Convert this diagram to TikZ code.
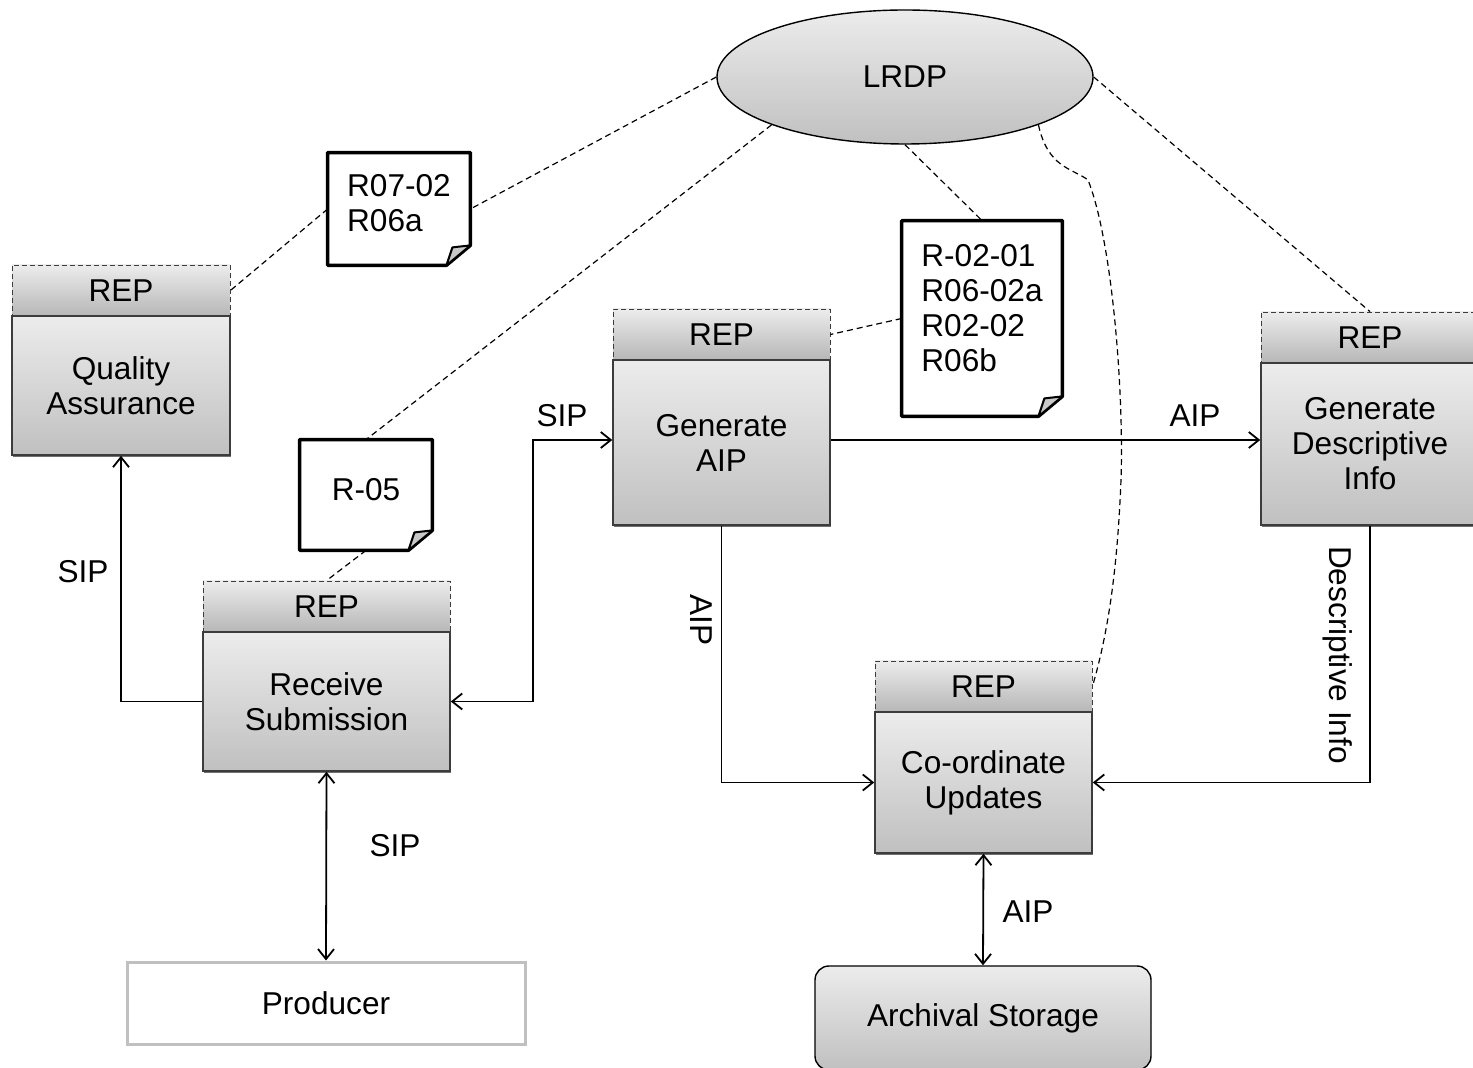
\documentclass[tikz,border=0pt]{standalone}
\usepackage{fontspec}
\setmainfont{Liberation Sans}
\usepackage{tikz}
\usetikzlibrary{shapes,arrows.meta,positioning,calc,shadows}
\definecolor{boxtop}{RGB}{236, 236, 236}
\definecolor{boxbottom}{RGB}{192, 192, 192}
\definecolor{boxline}{RGB}{60, 60, 60}
\definecolor{foldgray}{RGB}{200, 200, 200}
\definecolor{prodline}{RGB}{192, 192, 192}

% outline of a note with its turned-down corner
\newcommand{\notepage}[1]{%
    \draw[line width=1.7pt, line join=round] (#1.north west) -- (#1.north east) -- ([yshift=10pt]#1.south east) -- ([xshift=-12pt]#1.south east) -- (#1.south west) -- cycle;
    \filldraw[fill=foldgray, line width=1pt, line join=round] ([xshift=-12pt]#1.south east) -- ([xshift=-9pt, yshift=9pt]#1.south east) -- ([yshift=10pt]#1.south east) -- cycle;
}

\begin{document}
\begin{tikzpicture}[x=0.5pt, y=-0.5pt, >={Straight Barb[length=5pt,width=8pt]},
    every node/.style={font=\fontsize{15.8}{17.5}\selectfont},
    rephead/.style={draw=boxline, dashed, dash pattern=on 2.5pt off 1.5pt, top color=boxtop, bottom color=boxbottom!95!black, minimum height=25.5pt, inner sep=0pt},
    procbox/.style={draw=boxline, line width=0.8pt, top color=boxtop, bottom color=boxbottom, align=center, inner sep=0pt, drop shadow={shadow xshift=0.5pt, shadow yshift=-1pt, fill=black!80, opacity=0.7}},
    note/.style={fill=white, align=left, inner sep=0pt},
    link/.style={dashed, line width=0.6pt, dash pattern=on 3pt off 2pt},
    flow/.style={line width=0.9pt},
    lbl/.style={inner sep=1pt}]
    \useasboundingbox (0,0) rectangle (1473,1068);

    % LRDP
    \node[ellipse, draw, line width=0.7pt, top color=boxtop, bottom color=boxbottom, minimum width=188pt, minimum height=67pt, inner sep=0pt] (lrdp) at (905,77) {LRDP};

    % Notes
    \node[note, minimum width=71pt, minimum height=56pt] (n1) at (399,209) {R07-02\\R06a\\[-11.5pt]\mbox{}};
    \node[note, minimum width=66pt, minimum height=55pt] (n2) at (366,495) {R-05\\[-12pt]\mbox{}};
    \node[note, minimum width=80pt, minimum height=97.5pt] (n3) at (982,318.5) {R-02-01\\R06-02a\\R02-02\\R06b\\[-6.5pt]\mbox{}};
    \notepage{n1}
    \notepage{n2}
    \notepage{n3}

    % Process boxes
    \node[rephead, minimum width=109pt] (qa-rep) at (121,290.5) {REP};
    \node[procbox, minimum width=109pt, minimum height=69.5pt] (qa) at (121,385.5) {Quality\\Assurance};

    \node[rephead, minimum width=123.5pt] (rs-rep) at (326.5,606.5) {REP};
    \node[procbox, minimum width=123.5pt, minimum height=69.5pt] (rs) at (326.5,701.5) {Receive\\Submission};

    \node[rephead, minimum width=108.5pt] (ga-rep) at (721.5,334.5) {REP};
    \node[procbox, minimum width=108.5pt, minimum height=82.5pt] (ga) at (721.5,442.5) {Generate\\AIP};

    \node[rephead, minimum width=109pt] (gd-rep) at (1370,337.5) {REP};
    \node[procbox, minimum width=109pt, minimum height=81pt] (gd) at (1370,444) {Generate\\Descriptive\\Info};

    \node[rephead, minimum width=108.5pt] (cu-rep) at (983.5,686.5) {REP};
    \node[procbox, minimum width=108.5pt, minimum height=70.5pt] (cu) at (983.5,782.5) {Co-ordinate\\Updates};

    % External entities
    \node[draw=prodline, line width=1.5pt, fill=white, minimum width=199pt, minimum height=41pt] (prod) at (326,1003) {Producer};
    \node[draw, line width=0.7pt, rounded corners=7pt, top color=boxtop, bottom color=boxbottom, minimum width=168pt, minimum height=52pt] (as) at (983,1018) {Archival Storage};

    % Flows
    \coordinate (sipbend) at (533,0);
    \draw[flow, ->] (rs.west) -| (qa.south);
    \draw[flow, <->] (rs.south) -- (prod.north);
    \draw[flow, <->] (rs.east) -- (rs.east -| sipbend) |- ([yshift=1.25pt]ga.west);
    \draw[flow, ->] ([yshift=1.25pt]ga.east) -- ([yshift=1.25pt]ga.east -| gd.west);
    \draw[flow, ->] (ga.south) |- (cu.west);
    \draw[flow, ->] (gd.south) |- (cu.east);
    \draw[flow, <->] (cu.south) -- (as.north);

    % Flow labels
    \node[lbl] (l-sip1) at (83,572) {SIP};
    \node[lbl] (l-sip2) at (395,846) {SIP};
    \node[lbl] (l-sip3) at (562,416) {SIP};
    \node[lbl] (l-aip1) at (1195,416) {AIP};
    \node[lbl, rotate=-90] (l-aip2) at (701,620) {AIP};
    \node[lbl, rotate=-90] (l-desc) at (1338,655) {Descriptive Info};
    \node[lbl] (l-aip3) at (1028,912) {AIP};

    % Links to LRDP
    \draw[link] (lrdp.west) -- (n1.east);
    \draw[link] (n1.west) -- (qa-rep.east);
    \draw[link] (lrdp.south west) -- (n2.north);
    \draw[link] (n2.south) -- (rs-rep.north);
    \draw[link] (lrdp.south) -- (n3.north);
    \draw[link] (n3.west) -- (ga-rep.east);
    \draw[link] (lrdp.east) -- (gd-rep.north);
    \draw[link] (lrdp.south east) .. controls (1048,168) and (1072,168) .. (1088,180) .. controls (1112,240) and (1124,390) .. (1121,480) .. controls (1117,580) and (1106,640) .. (cu-rep.east);
\end{tikzpicture}
\end{document}
